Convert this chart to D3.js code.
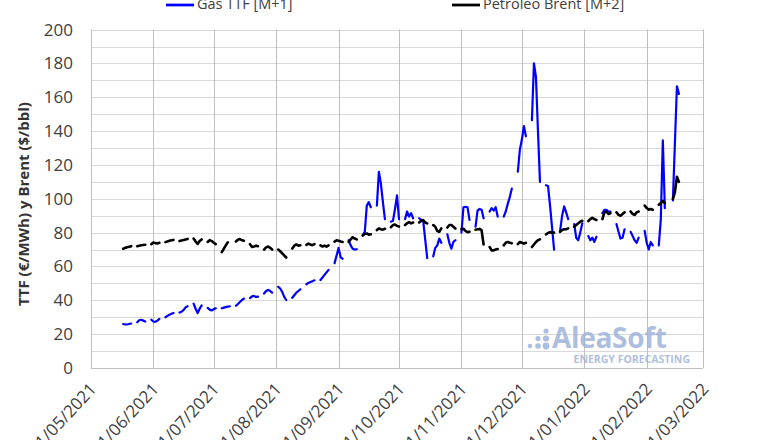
<!DOCTYPE html>
<html><head><meta charset="utf-8">
<script src="https://cdn.jsdelivr.net/npm/d3@7"></script>
<style>
body{margin:0;background:#fff}
svg{display:block}
text{font-family:"Open Sans",sans-serif}
</style>
</head><body>
<svg id="chart" width="780" height="440"></svg>
<script>
// ---- data (weekly rows Mon..Fri, null = no quote) ----
const firstMonday = "2021-05-17";
const axisStart = "2021-05-01";
const axisEnd = "2022-03-01";
const monthTicks = ["2021-05-01","2021-06-01","2021-07-01","2021-08-01","2021-09-01","2021-10-01",
  "2021-11-01","2021-12-01","2022-01-01","2022-02-01","2022-03-01"];
const yTicks = [0,20,40,60,80,100,120,140,160,180,200];
const yGrid = [10,20,30,40,50,60,70,80,90,100,110,120,130,140,150,160,170,180,190,200];

const ttfWeeks = [
  [26,25.8,25.7,26,26.3],
  [27,28.2,28.5,28,27.5],
  [28.5,27.5,27.3,28,29],
  [30,30.8,31.5,32,32.5],
  [32.8,33.3,34.2,35.8,36.5],
  [38,35,32.5,35,37],
  [35.5,34.5,34,34.8,35.3],
  [35.3,35.7,36,36.3,36.5],
  [36.8,37.8,39,40.2,41],
  [41.3,42.3,42.6,42,42.2],
  [44,45.5,46.2,45.5,44.5],
  [48,47,45,42,40.2],
  [41.5,43,44.5,45.5,46.5],
  [49.5,50.3,50.8,51.3,51.8],
  [52,53.5,55,56.5,58],
  [62,66.5,71,65.5,64.5],
  [75.5,72.5,70.5,70,70.2],
  [78.5,80.5,96,98,95],
  [96,116,109,98,88],
  [86.5,87,94,102,88],
  [88,92.5,89.5,91.5,88.5],
  [88.5,87.5,87,76,65],
  [66,71,72.5,76.5,74],
  [79,74,70.5,74.5,75.5],
  [80,95,95.3,95,87.5],
  [83.5,93,94,93.5,88.5],
  [92.5,94.5,93,95,89.5],
  [89.5,92.5,97,101,106],
  [116,129,135,143,137],
  [146.5,180,172,140,110],
  [108,107.5,96,83,70],
  [81,90,95.5,92,88],
  [85,77,75.5,80,85.5],
  [78,75.5,77,74.5,77.5],
  [91.5,93.5,93.5,92.5,92.5],
  [85,80.5,76.5,77,82],
  [80.5,78,75.5,74,77],
  [81,74,70,74.5,72.5],
  [72.5,88,134.5,94.5,null],
  [99,133,166.5,162,null]
];

const brentWeeks = [
  [70.5,71,71.3,71.6,72],
  [72,72.3,72.5,72.7,72.8],
  [73.2,74.2,73.8,73.6,74],
  [74.4,74.8,75.2,75.5,75.7],
  [75,75.4,75.6,76,76.3],
  [76.5,74.8,73.3,75,76],
  [74.5,75.6,75,74,73.2],
  [68.5,70.5,72.5,74.3,null],
  [74.8,75.8,76.2,75.5,75.2],
  [73.2,71.5,71.8,72.3,72],
  [70,71.3,71.8,71,70],
  [70,69,67.8,66.5,65.3],
  [70.6,72.3,73,72.3,72.5],
  [72.8,73.5,73,72.6,73.2],
  [72.5,71.8,72.3,71.7,72.5],
  [74.7,75.5,75.2,74.8,74.5],
  [74.6,76,77.3,76.5,76],
  [78.3,79.2,79.5,78.8,79],
  [81.5,82.5,82,81.8,82.3],
  [83.2,84.5,84.8,84,83.6],
  [84.5,85.5,86.3,85.5,86],
  [86,87,87.5,86,85.5],
  [84.5,83.5,81,80.5,82.5],
  [83,84.5,84.5,83.5,82.5],
  [82,82.3,81,80.3,80.5],
  [81.7,82,82.2,81.5,73],
  [71.5,69.5,69.5,70,70.3],
  [72.5,74,74.5,74,73.7],
  [73.2,74.5,74,73.5,74],
  [71.5,73,74.5,75.5,76],
  [79,79.8,80.3,80,80],
  [80.5,81.5,82,82,82.5],
  [83.5,84.5,85.5,86.5,87],
  [86.8,88,88.8,88,87.5],
  [88,92,92.5,91,91.5],
  [92,90.5,90,91,92],
  [92.5,91,90.5,92,92.5],
  [96,94.5,93.5,94,93.5],
  [96.5,97.5,98.8,97.5,null],
  [100,104,113,110,null]
];

const seriesNames = ["Gas TTF [M+1]","Petroleo Brent [M+2]"];
const seriesColors = ["#0000ff","#000000"];
const yTitle = "TTF (€/MWh) y Brent ($/bbl)";

// ---- build ----
const parse = d3.timeParse("%Y-%m-%d");
const fmt = d3.timeFormat("%d/%m/%Y");
const svg = d3.select("#chart");

const x = d3.scaleTime().domain([parse(axisStart), parse(axisEnd)]).range([90.9, 703.1]);
const y = d3.scaleLinear().domain([0, 200]).range([368, 29.6]);

function toPoints(weeks){
  const start = parse(firstMonday);
  const pts = [];
  weeks.forEach((wk, w) => {
    wk.forEach((v, i) => pts.push({d: d3.timeDay.offset(start, 7*w + i), v: v}));
    pts.push(null);
  });
  return pts;
}

// grid
const g = svg.append("g");
g.selectAll("line.h").data(yGrid).join("line")
  .attr("x1", x.range()[0]).attr("x2", x.range()[1])
  .attr("y1", d => Math.round(y(d)) + 0.5).attr("y2", d => Math.round(y(d)) + 0.5)
  .attr("stroke", "#d9d9d9").attr("stroke-width", 1);
g.selectAll("line.v").data(monthTicks).join("line")
  .attr("x1", d => Math.round(x(parse(d))) + 0.5).attr("x2", d => Math.round(x(parse(d))) + 0.5)
  .attr("y1", y(200)).attr("y2", y(0))
  .attr("stroke", "#bfbfbf").attr("stroke-width", 1);
g.append("line")
  .attr("x1", x.range()[0]).attr("x2", x.range()[1])
  .attr("y1", Math.round(y(0)) + 0.5).attr("y2", Math.round(y(0)) + 0.5)
  .attr("stroke", "#bfbfbf");

// y axis labels
const yAxis = d3.axisLeft(y).tickValues(yTicks).tickSize(0).tickPadding(0);
const ya = svg.append("g").attr("transform", "translate(73,0)").call(yAxis);
ya.select(".domain").remove();
ya.selectAll("text").attr("font-size", 17).attr("fill", "#404040")
  .style("font-family", '"Open Sans",sans-serif');

// x axis labels
const xAxis = d3.axisBottom(x).tickValues(monthTicks.map(parse)).tickFormat(fmt).tickSize(0);
const xa = svg.append("g").attr("transform", "translate(0,368)").call(xAxis);
xa.select(".domain").remove();
xa.selectAll("text")
  .attr("font-size", 17).attr("fill", "#404040")
  .style("font-family", '"Open Sans",sans-serif')
  .attr("text-anchor", "end").attr("dy", null).attr("y", null)
  .attr("transform", "translate(6,22) rotate(-47)");

// y title
svg.append("text").attr("transform", "translate(29,204) rotate(-90)")
  .attr("text-anchor", "middle").attr("font-size", 15).attr("font-weight", "bold")
  .attr("fill", "#333").text(yTitle);

// lines
const line = d3.line().defined(d => d && d.v != null).x(d => x(d.d)).y(d => y(d.v));
[ttfWeeks, brentWeeks].forEach((wk, i) => {
  svg.append("path").datum(toPoints(wk))
    .attr("fill", "none").attr("stroke", seriesColors[i])
    .attr("stroke-width", i === 0 ? 2.2 : 2.6)
    .attr("stroke-linejoin", "round").attr("stroke-linecap", "round")
    .attr("d", line);
});

// watermark logo
const logo = svg.append("g").attr("fill", "#9fb3da").attr("fill-opacity", 0.85);
const dots = [[546,331,2.6],[538,338.5,2.6],[546,338.5,3.1],[530,346,2.2],[538,346,2.8],[546,346,3.4]];
logo.selectAll("circle").data(dots).join("circle")
  .attr("cx", d => d[0]).attr("cy", d => d[1]).attr("r", d => d[2]);
logo.append("text").attr("x", 552).attr("y", 348).attr("font-size", 28).attr("font-weight", "bold")
  .attr("letter-spacing", "-0.3").text("AleaSoft");
logo.append("text").attr("x", 690).attr("y", 363).attr("text-anchor", "end")
  .attr("font-size", 10.5).attr("font-weight", "bold").text("ENERGY FORECASTING");

// legend
const legendX = [166, 452];
seriesNames.forEach((n, i) => {
  const lg = svg.append("g");
  lg.append("line").attr("x1", legendX[i]).attr("x2", legendX[i] + 28)
    .attr("y1", 5).attr("y2", 5).attr("stroke", seriesColors[i]).attr("stroke-width", 2.75);
  lg.append("text").attr("x", legendX[i] + 31).attr("y", 9)
    .attr("font-size", 14.5).attr("fill", "#404040").text(n);
});
</script>
</body></html>
